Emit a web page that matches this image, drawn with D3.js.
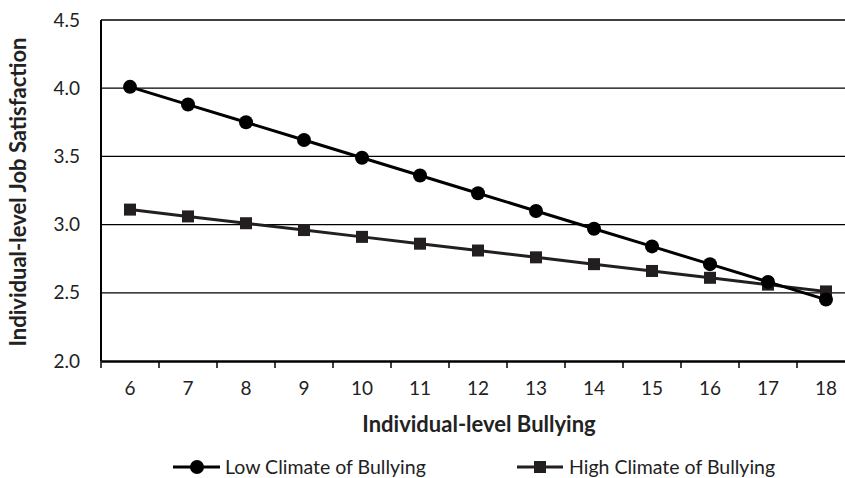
<!DOCTYPE html>
<html><head><meta charset="utf-8">
<script src="https://cdn.jsdelivr.net/npm/d3@7"></script>
<style>body{margin:0;background:#fff}svg{display:block}text{font-family:Lato,"Open Sans",sans-serif;fill:#222}</style>
</head><body><svg id="c" width="845" height="478"></svg>
<script>
const categories = [6,7,8,9,10,11,12,13,14,15,16,17,18];
const lowClimate = [4.01,3.88,3.75,3.62,3.49,3.36,3.23,3.10,2.97,2.84,2.71,2.58,2.45];
const highClimate = [3.11,3.06,3.01,2.96,2.91,2.86,2.81,2.76,2.71,2.66,2.61,2.56,2.51];
const yTicks = [2.0,2.5,3.0,3.5,4.0,4.5];
const seriesNames = ["Low Climate of Bullying","High Climate of Bullying"];

const svg = d3.select("#c");
const pLeft = 101, pTop = 20, pBottom = 361, stepW = 58;
const x = d3.scaleBand().domain(categories).range([pLeft, pLeft + stepW*categories.length]).padding(0);
const y = d3.scaleLinear().domain([2.0,4.5]).range([pBottom, pTop]);

// gridlines
svg.append("g").selectAll("line").data(yTicks.filter(d=>d>2)).join("line")
  .attr("x1", pLeft).attr("x2", 860).attr("y1", d=>y(d)).attr("y2", d=>y(d))
  .attr("stroke", "#000").attr("stroke-width", 1.3);

// y axis labels
svg.append("g").selectAll("text").data(yTicks).join("text")
  .attr("x", 80).attr("y", d=>y(d)).attr("dy","0.35em").attr("text-anchor","end")
  .style("font-size","19px").text(d=>d.toFixed(1));

// left axis line
svg.append("line").attr("x1",pLeft).attr("x2",pLeft).attr("y1",pTop).attr("y2",pBottom).attr("stroke","#000").attr("stroke-width",2);

// x axis
const xAxis = d3.axisBottom(x).tickSizeInner(0).tickSizeOuter(0).tickPadding(21);
const gx = svg.append("g").attr("transform",`translate(0,${pBottom})`).call(xAxis);
gx.select(".domain").attr("stroke","#000").attr("stroke-width",2.5);
gx.selectAll("text").style("font-size","19px").style("font-family","Lato,'Open Sans',sans-serif").attr("fill","#222");
// boundary ticks
const bounds = categories.map(c=>x(c)).concat([x(categories[categories.length-1])+x.bandwidth()]);
svg.append("g").selectAll("line").data(bounds).join("line")
  .attr("x1",d=>d).attr("x2",d=>d).attr("y1",pBottom).attr("y2",pBottom+7)
  .attr("stroke","#000").attr("stroke-width",1.5);

const cx = d => x(d) + x.bandwidth()/2;
const line = d3.line().x((d,i)=>cx(categories[i])).y(d=>y(d));

// high series
svg.append("path").datum(highClimate).attr("d",line).attr("fill","none").attr("stroke","#231f20").attr("stroke-width",3);
svg.append("g").selectAll("rect").data(highClimate).join("rect")
  .attr("x",(d,i)=>cx(categories[i])-6).attr("y",d=>y(d)-6).attr("width",12).attr("height",12).attr("fill","#231f20");

// low series
svg.append("path").datum(lowClimate).attr("d",line).attr("fill","none").attr("stroke","#000").attr("stroke-width",3);
svg.append("g").selectAll("circle").data(lowClimate).join("circle")
  .attr("cx",(d,i)=>cx(categories[i])).attr("cy",d=>y(d)).attr("r",7).attr("fill","#000");

// axis titles
svg.append("text").attr("x",479).attr("y",432).attr("text-anchor","middle")
  .style("font-size","22px").style("font-weight","bold").text("Individual-level Bullying");
svg.append("text").attr("transform","translate(26,192) rotate(-90)").attr("text-anchor","middle")
  .style("font-size","22px").style("font-weight","bold").text("Individual-level Job Satisfaction");

// legend
const lg = svg.append("g");
lg.append("line").attr("x1",173).attr("x2",220).attr("y1",467).attr("y2",467).attr("stroke","#000").attr("stroke-width",3);
lg.append("circle").attr("cx",197).attr("cy",467).attr("r",7).attr("fill","#000");
lg.append("text").attr("x",225).attr("y",467).attr("dy","0.35em").style("font-size","19.5px").text(seriesNames[0]);
lg.append("line").attr("x1",517).attr("x2",563).attr("y1",467).attr("y2",467).attr("stroke","#231f20").attr("stroke-width",3);
lg.append("rect").attr("x",534).attr("y",461).attr("width",12).attr("height",12).attr("fill","#231f20");
lg.append("text").attr("x",569).attr("y",467).attr("dy","0.35em").style("font-size","19.5px").text(seriesNames[1]);
</script></body></html>
